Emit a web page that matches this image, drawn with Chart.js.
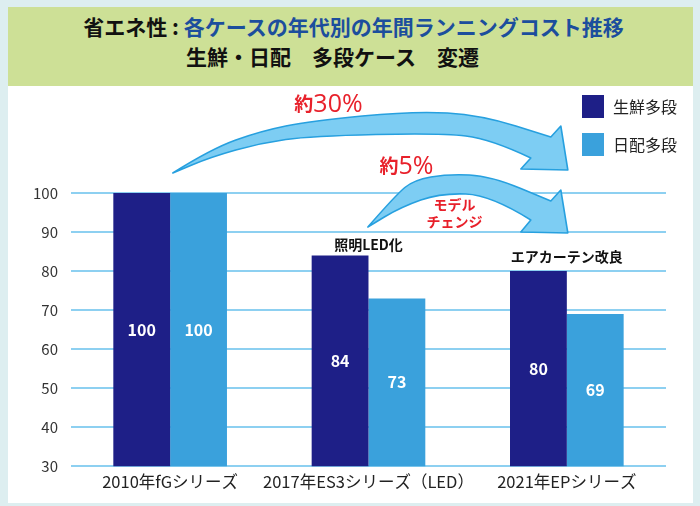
<!DOCTYPE html>
<html>
<head>
<meta charset="utf-8">
<script src="https://cdn.jsdelivr.net/npm/chart.js@4"></script>
<style>
  html, body { margin: 0; padding: 0; background: #ddeef0; }
  body { width: 700px; height: 506px; position: relative; overflow: hidden; font-family: "Noto Sans CJK JP", sans-serif; }
  #head { position: absolute; left: 8px; top: 7px; width: 685px; height: 79px; background: #cde096; font-weight: bold; font-size: 21px; color: #111; }
  #head .l1 { position: absolute; left: 0; right: 0; top: 6px; line-height: 26px; text-align: center; padding-left: 6px; }
  #head .l2 { position: absolute; left: 178px; top: 36px; line-height: 26px; white-space: pre; }
  #head .blue { color: #1c4e9d; }
  #panel { position: absolute; left: 8px; top: 86px; width: 685px; height: 417px; background: #fff; }
</style>
</head>
<body>
<div id="head">
  <div class="l1">省エネ性 : <span class="blue">各ケースの年代別の年間ランニングコスト推移</span></div>
  <div class="l2">生鮮・日配　多段ケース　変遷</div>
</div>
<div id="panel"><canvas id="costChart" width="685" height="417"></canvas></div>
<script>
const categories = ['2010年fGシリーズ', '2017年ES3シリーズ（LED）', '2021年EPシリーズ'];
const seriesNames = ['生鮮多段', '日配多段'];
const freshMulti = [100, 84, 80];
const dailyMulti = [100, 73, 69];
const yMin = 30, yMax = 100, yStep = 10;
const notes = ['', '照明LED化', 'エアカーテン改良'];

const darkBlue = '#1e1f87';
const lightBlue = '#3aa1dc';
const fontJP = '"Noto Sans CJK JP", sans-serif';

// smooth line through points (quadratic through midpoints)
function smooth(ctx, pts) {
  for (let i = 1; i < pts.length - 1; i++) {
    const mx = (pts[i][0] + pts[i + 1][0]) / 2, my = (pts[i][1] + pts[i + 1][1]) / 2;
    ctx.quadraticCurveTo(pts[i][0], pts[i][1], mx, my);
  }
  const last = pts[pts.length - 1];
  ctx.lineTo(last[0], last[1]);
}

function arrow(ctx, tx, ty, upper, head, lower) {
  const u = upper.map(p => [tx + p[0], ty + p[1]]);
  const l = lower.map(p => [tx + p[0], ty + p[1]]);
  ctx.beginPath();
  ctx.moveTo(u[0][0], u[0][1]);
  smooth(ctx, u);
  head.forEach(p => ctx.lineTo(tx + p[0], ty + p[1]));
  smooth(ctx, l);
  ctx.closePath();
  ctx.fillStyle = '#7dcdf3';
  ctx.fill();
  ctx.strokeStyle = '#27a0df';
  ctx.lineWidth = 1.6;
  ctx.lineJoin = 'round';
  ctx.stroke();
}

const extras = {
  id: 'extras',
  afterDatasetsDraw(chart) {
    const ctx = chart.ctx;
    const x = chart.scales.x, y = chart.scales.y;
    const top = y.getPixelForValue(yMax);
    const right = chart.chartArea.right;
    const bottom = chart.chartArea.bottom;
    ctx.save();

    // values inside bars
    ctx.fillStyle = '#fff';
    ctx.font = 'bold 16px ' + fontJP;
    ctx.textAlign = 'center';
    ctx.textBaseline = 'middle';
    chart.data.datasets.forEach((ds, di) => {
      chart.getDatasetMeta(di).data.forEach((bar, i) => {
        ctx.fillText(ds.data[i], bar.x, (bar.y + Math.min(bar.base, bottom)) / 2);
      });
    });

    // notes above groups
    ctx.fillStyle = '#111';
    ctx.font = 'bold 14px ' + fontJP;
    const gap = [0, 11, 14];
    notes.forEach((n, i) => {
      if (!n) return;
      ctx.fillText(n, x.getPixelForValue(i), y.getPixelForValue(freshMulti[i]) - gap[i]);
    });

    // arrows
    const c1 = x.getPixelForValue(1), c2 = x.getPixelForValue(2);
    arrow(ctx, c2 + 1, top - 23,
      [[-395, 3], [-357, -21], [-307, -39], [-257, -49], [-154, -59], [-87, -55], [-17, -33]],
      [[-7, -44], [0, 0], [-47, -1], [-37, -12]],
      [[-37, -12], [-77, -31], [-127, -37], [-257, -34], [-307, -27], [-357, -13], [-395, 3]]);
    arrow(ctx, c2 + 1, top + 40,
      [[-200, -6], [-172, -38], [-154, -53], [-120, -59], [-77, -57], [-17, -32]],
      [[-7, -43], [0, 0], [-47, -1], [-37, -13]],
      [[-37, -13], [-77, -38], [-127, -40], [-167, -26], [-200, -6]]);

    // red texts
    ctx.fillStyle = '#e8212b';
    ctx.textBaseline = 'alphabetic';
    function redPct(pre, num, cx, by) {
      ctx.font = 'bold 19px ' + fontJP;
      const w1 = ctx.measureText(pre).width;
      ctx.font = '25px "Open Sans", sans-serif';
      const w2 = ctx.measureText(num).width;
      let sx = cx - (w1 + w2) / 2;
      ctx.textAlign = 'left';
      ctx.font = 'bold 19px ' + fontJP;
      ctx.fillText(pre, sx, by - 1);
      ctx.font = '25px "Open Sans", sans-serif';
      ctx.fillText(num, sx + w1, by);
    }
    redPct('約', '30%', c1 - 40, top - 81);
    redPct('約', '5%', c1 + 38, top - 19);
    ctx.textAlign = 'center';
    ctx.textBaseline = 'middle';
    ctx.font = 'bold 14px ' + fontJP;
    ctx.fillText('モデル', c1 + 86, top + 12);
    ctx.fillText('チェンジ', c1 + 86, top + 29);

    // legend
    const colors = [darkBlue, lightBlue];
    seriesNames.forEach((s, i) => {
      const sy = top - 98 + i * 38;
      ctx.fillStyle = colors[i];
      ctx.fillRect(right - 84, sy, 22, 23);
      ctx.fillStyle = '#222';
      ctx.font = '16px ' + fontJP;
      ctx.textAlign = 'left';
      ctx.fillText(s, right - 53, sy + 12);
    });
    ctx.restore();
  }
};

new Chart(document.getElementById('costChart'), {
  type: 'bar',
  data: {
    labels: categories,
    datasets: [
      { label: seriesNames[0], data: freshMulti, backgroundColor: darkBlue },
      { label: seriesNames[1], data: dailyMulti, backgroundColor: lightBlue }
    ]
  },
  options: {
    responsive: false,
    animation: false,
    layout: { padding: { left: 12, right: 27, top: 107, bottom: 5 } },
    categoryPercentage: 0.573,
    barPercentage: 1,
    plugins: { legend: { display: false }, tooltip: { enabled: false } },
    scales: {
      x: {
        grid: { display: false, drawTicks: false },
        border: { display: false },
        ticks: { color: '#222', font: { family: fontJP, size: 16.5 }, padding: 6, maxRotation: 0, autoSkip: false }
      },
      y: {
        min: yMin, max: yMax,
        ticks: { stepSize: yStep, color: '#333', font: { family: fontJP, size: 15 }, padding: 13 },
        grid: { color: '#8dd0f1', lineWidth: 2, drawTicks: false },
        border: { display: false }
      }
    }
  },
  plugins: [extras]
});
</script>
</body>
</html>
